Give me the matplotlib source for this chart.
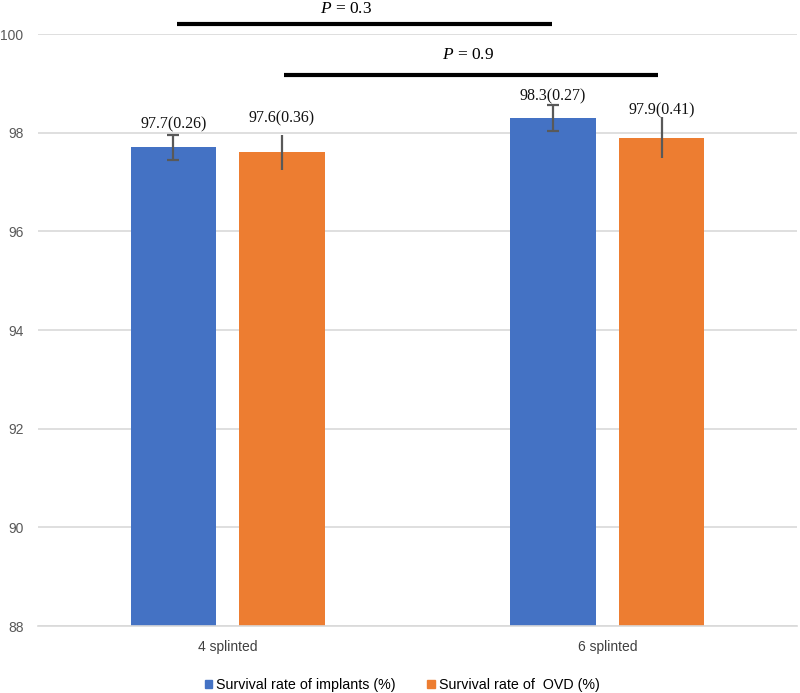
import matplotlib
matplotlib.use("Agg")
import matplotlib.pyplot as plt
import numpy as np
from matplotlib.patches import Patch

categories = ["4 splinted", "6 splinted"]
implants = [97.7, 98.3]
implants_sd = [0.26, 0.27]
ovd = [97.6, 97.9]
ovd_sd = [0.36, 0.41]
series_names = ["Survival rate of implants (%)", "Survival rate of  OVD (%)"]
yticks = [88, 90, 92, 94, 96, 98, 100]
p_labels = ["0.3", "0.9"]

blue = "#4472C4"
orange = "#ED7D31"
grey = "#595959"

plt.rcParams["mathtext.fontset"] = "custom"
plt.rcParams["mathtext.rm"] = "Liberation Serif"
plt.rcParams["mathtext.it"] = "Liberation Serif:italic"

fig = plt.figure(figsize=(8.0, 6.93), dpi=100)
W, H = 800, 693
ax = fig.add_axes([38 / W, 1 - 626 / H, (797 - 38) / W, (626 - 34) / H])

x = np.arange(len(categories))
bw = 0.226
off = 0.143
ax.bar(x - off, implants, bw, color=blue, zorder=2)
ax.bar(x + off, ovd, bw, color=orange, zorder=2)
ax.errorbar(x - off, implants, yerr=implants_sd, fmt="none", ecolor=grey,
            elinewidth=1.6, capsize=4, capthick=1.6, zorder=3)
ax.errorbar(x + off, ovd, yerr=ovd_sd, fmt="none", ecolor=grey,
            elinewidth=1.6, capsize=0, zorder=3)

# label offsets (points above error-bar top), per series
lab_off = [[7.2, 5.8], [11.5, 5.0]]
for k, (xs, vals, sds) in enumerate([(x - off, implants, implants_sd), (x + off, ovd, ovd_sd)]):
    for j, (xi, v, s) in enumerate(zip(xs, vals, sds)):
        ax.annotate(f"{v}({s})", (xi, v + s), xytext=(0, lab_off[k][j]), textcoords="offset points",
                    ha="center", va="center", fontsize=11.5,
                    family="Liberation Serif", color="#111111")

ax.set_ylim(88, 100)
ax.set_xlim(-0.5, 1.5)
ax.set_yticks(yticks)
ax.set_yticklabels([str(t) for t in yticks], fontsize=10, color=grey, family="Liberation Sans")
ax.set_xticks(x)
ax.set_xticklabels(categories, fontsize=10, color="#404040", family="Liberation Sans")
ax.yaxis.grid(True, color="#D9D9D9", linewidth=1.2, zorder=0)
ax.set_axisbelow(True)
for s in ["top", "right", "left"]:
    ax.spines[s].set_visible(False)
ax.spines["bottom"].set_color("#D9D9D9")
ax.spines["bottom"].set_linewidth(1.2)
ax.tick_params(axis="both", length=0)
ax.tick_params(axis="y", pad=10.5)
ax.tick_params(axis="x", pad=10)

# significance lines
ax.plot([-0.134, 0.855], [100.21, 100.21], color="black", lw=3, clip_on=False, solid_capstyle="butt")
ax.text(0.313, 100.5, "$P$ = " + p_labels[0], ha="center", va="center", fontsize=12.5,
        family="Liberation Serif", clip_on=False)
ax.plot([0.147, 1.134], [99.17, 99.17], color="black", lw=3, clip_on=False, solid_capstyle="butt")
ax.text(0.632, 99.57, "$P$ = " + p_labels[1], ha="center", va="center", fontsize=12.5,
        family="Liberation Serif", clip_on=False)

handles = [Patch(color=blue), Patch(color=orange)]
fig.legend(handles, series_names, loc="center", bbox_to_anchor=(402 / W, 1 - 685 / H),
           ncol=2, frameon=False, handlelength=0.55, handleheight=0.55,
           handletextpad=0.25, columnspacing=2.2, prop={"family": "Liberation Sans", "size": 10.3})

fig.savefig("out.png", dpi=100)
